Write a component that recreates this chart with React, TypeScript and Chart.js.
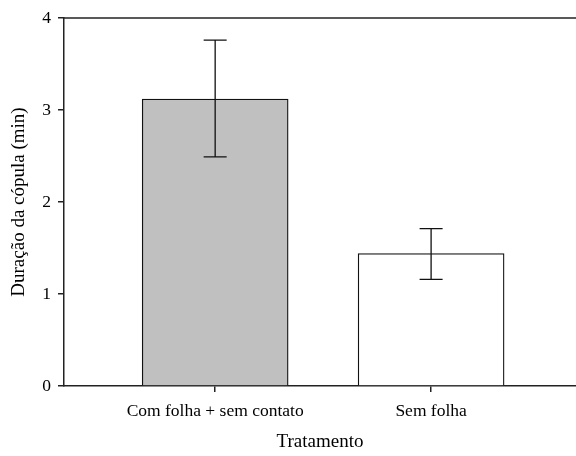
import React, { useEffect, useRef } from "react";
import { Chart, registerables } from "chart.js";

Chart.register(...registerables);

const categories = ["Com folha + sem contato", "Sem folha"];
const positions = [1, 2];
const means = [3.12, 1.44];
const upper = [3.76, 1.71];
const lower = [2.49, 1.16];
const fills = ["#c0c0c0", "#ffffff"];
const yTicks = [0, 1, 2, 3, 4];

const FONT = "'Liberation Serif', 'Times New Roman', serif";

const errorBarPlugin = {
  id: "errorBars",
  afterDatasetsDraw(chart: any) {
    const { ctx, scales, chartArea } = chart;
    const xs = scales.x;
    const ys = scales.y;
    ctx.save();
    ctx.strokeStyle = "#222";
    ctx.lineWidth = 1.5;
    ctx.beginPath();
    ctx.moveTo(chartArea.left, chartArea.top);
    ctx.lineTo(chartArea.right, chartArea.top);
    ctx.stroke();
    ctx.lineWidth = 1.3;
    ctx.strokeStyle = "#111";
    positions.forEach((p, i) => {
      const x = xs.getPixelForValue(p);
      const yt = ys.getPixelForValue(upper[i]);
      const yb = ys.getPixelForValue(lower[i]);
      const cap = 11.5;
      ctx.beginPath();
      ctx.moveTo(x, yt);
      ctx.lineTo(x, yb);
      ctx.moveTo(x - cap, yt);
      ctx.lineTo(x + cap, yt);
      ctx.moveTo(x - cap, yb);
      ctx.lineTo(x + cap, yb);
      ctx.stroke();
    });
    ctx.restore();
  },
};

export default function App() {
  const ref = useRef<HTMLCanvasElement>(null);
  useEffect(() => {
    if (!ref.current) return;
    const chart = new Chart(ref.current, {
      type: "bar",
      data: {
        datasets: [
          {
            data: positions.map((p, i) => ({ x: p, y: means[i] })),
            backgroundColor: fills,
            borderColor: "#111",
            borderWidth: 1.3,
            barThickness: 146,
          },
        ],
      },
      options: {
        animation: false,
        responsive: false,
        maintainAspectRatio: false,
        layout: { padding: { left: 0, right: 0, top: 18, bottom: 0 } },
        plugins: { legend: { display: false }, tooltip: { enabled: false } },
        scales: {
          x: {
            type: "linear",
            min: 0.3,
            max: 2.671,
            offset: false,
            afterBuildTicks: (s: any) => {
              s.ticks = positions.map((v) => ({ value: v }));
            },
            afterFit: (s: any) => {
              s.height = 70;
            },
            ticks: {
              color: "#000",
              font: { family: FONT, size: 17.5 },
              padding: 9,
              maxRotation: 0,
              autoSkip: false,
              callback: (v: any) => categories[positions.indexOf(Number(v))] ?? "",
            },
            grid: { offset: false, drawOnChartArea: false, drawTicks: true, tickLength: 6, color: "#222", lineWidth: 1.5 },
            border: { display: true, color: "#222", width: 1.5 },
            title: {
              display: true,
              text: "Tratamento",
              color: "#000",
              font: { family: FONT, size: 19 },
              padding: { top: 8, bottom: 3 },
            },
          },
          y: {
            min: 0,
            max: 4,
            afterBuildTicks: (s: any) => {
              s.ticks = yTicks.map((v) => ({ value: v }));
            },
            afterFit: (s: any) => {
              s.width = 64;
            },
            ticks: {
              color: "#000",
              font: { family: FONT, size: 17.5 },
              padding: 7,
            },
            grid: { drawOnChartArea: false, drawTicks: true, tickLength: 6, color: "#222", lineWidth: 1.5 },
            border: { display: true, color: "#222", width: 1.5 },
            title: {
              display: true,
              text: "Duração da cópula (min)",
              color: "#000",
              font: { family: FONT, size: 19 },
              padding: { top: 8, bottom: 4 },
            },
          },
        },
      },
      plugins: [errorBarPlugin],
    } as any);
    return () => chart.destroy();
  }, []);
  return (
    <div style={{ position: "fixed", left: 0, top: 0, width: 576, height: 456, background: "#fff" }}>
      <canvas ref={ref} width={576} height={456} style={{ display: "block" }} />
    </div>
  );
}
